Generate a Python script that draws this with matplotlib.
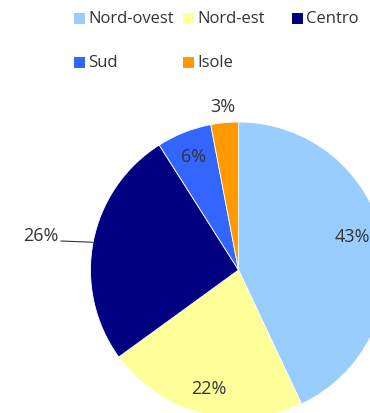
import numpy as np
import matplotlib.pyplot as plt
from matplotlib.patches import Rectangle

# quota per ripartizione geografica (%)
regioni = ['Nord-ovest', 'Nord-est', 'Centro', 'Sud', 'Isole']
quote = [43, 22, 26, 6, 3]
colori = ['#99CCFF', '#FFFF99', '#000080', '#3366FF', '#FF9900']

W, H = 370, 414
plt.rcParams['font.family'] = ['Open Sans', 'DejaVu Sans']
fig = plt.figure(figsize=(W / 100, H / 100), dpi=100)
ax = fig.add_axes([0, 0, 1, 1])

cx, cy, r = 238.5, 271, 148
wedges, _ = ax.pie(quote, colors=colori, startangle=-90, counterclock=True,
                   center=(cx, cy), radius=r, frame=True,
                   wedgeprops=dict(edgecolor='white', linewidth=0.6))
ax.set_xlim(0, W)
ax.set_ylim(H, 0)
ax.axis('off')

# distanza delle etichette dal centro (frazione del raggio) e spostamento angolare
dist = [0.8, 0.82, None, 0.83, 1.11]
shift = [-4, 0, 0, 0, 0]
grigio = '#333333'
for w, q, d, s in zip(wedges, quote, dist, shift):
    mid = np.deg2rad((w.theta1 + w.theta2) / 2 + s)
    if d is None:
        # etichetta esterna con linea di richiamo
        ex, ey = cx + r * np.cos(mid), cy + r * np.sin(mid)
        ax.plot([61, ex], [242, ey], color=grigio, lw=0.8)
        ax.text(59, 236, f'{q}%', ha='right', va='center', fontsize=13, color=grigio)
        continue
    tx, ty = cx + d * r * np.cos(mid), cy + d * r * np.sin(mid)
    ax.text(tx, ty, f'{q}%', ha='center', va='center', fontsize=13, color=grigio)

# legenda su due righe
for i, (nome, col) in enumerate(zip(regioni, colori)):
    lx = 74 + (i % 3) * 109
    ly = 19 + (i // 3) * 44
    ax.add_patch(Rectangle((lx, ly - 5.5), 11, 11, facecolor=col, edgecolor='none'))
    ax.text(lx + 14, ly, nome, ha='left', va='center', fontsize=12, color=grigio)

fig.savefig('out.png', dpi=100)
